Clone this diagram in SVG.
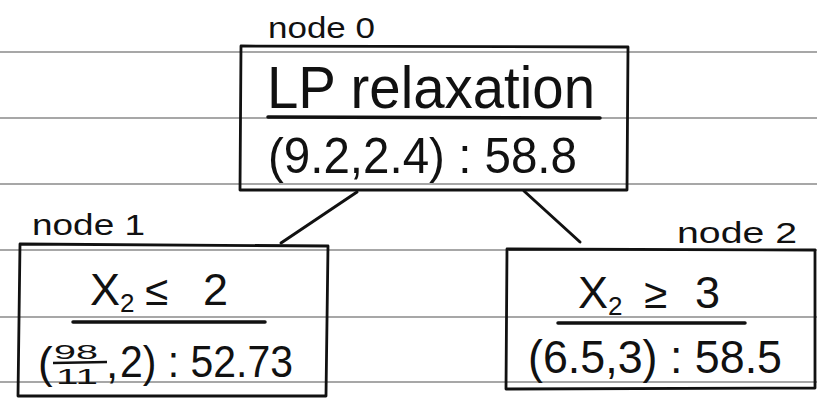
<svg xmlns="http://www.w3.org/2000/svg" width="817" height="398" viewBox="0 0 817 398">
<style>
.rule{stroke:#8a8a8a;stroke-width:1.5;fill:none}
.box{stroke:#111;stroke-width:2.8;fill:none;stroke-linejoin:round}
.ul{stroke:#111;stroke-width:3.5;fill:none;stroke-linecap:round}
.edge{stroke:#111;stroke-width:3;fill:none;stroke-linecap:round}
text{font-family:"Liberation Sans","Noto Sans",sans-serif;fill:#111}
.lbl{font-size:30px}
.sub{font-size:26px}
</style>
<rect width="817" height="398" fill="#fff"/>
<g id="ruled-lines">
<line class="rule" x1="0" y1="52" x2="817" y2="52"/>
<line class="rule" x1="0" y1="118" x2="817" y2="118"/>
<line class="rule" x1="0" y1="184" x2="817" y2="184"/>
<line class="rule" x1="0" y1="250" x2="817" y2="250"/>
<line class="rule" x1="0" y1="317" x2="817" y2="317"/>
<line class="rule" x1="0" y1="382" x2="817" y2="382"/>
</g>
<g id="connectors">
<line class="edge" x1="357" y1="192" x2="281" y2="243"/>
<line class="edge" x1="524" y1="191" x2="580" y2="242"/>
</g>
<g id="node0">
<text class="lbl" x="268" y="38" textLength="107" lengthAdjust="spacingAndGlyphs">node 0</text>
<path class="box" d="M241 46 L628 47 L627 190 L240 190 Z"/>
<text x="267" y="108" font-size="60" textLength="328" lengthAdjust="spacingAndGlyphs">LP relaxation</text>
<line class="ul" x1="268" y1="117" x2="600" y2="118"/>
<text x="268" y="173" font-size="50" textLength="309" lengthAdjust="spacingAndGlyphs">(9.2,2.4) : 58.8</text>
</g>
<g id="node1">
<text class="lbl" x="32" y="235" textLength="113" lengthAdjust="spacingAndGlyphs">node 1</text>
<path class="box" d="M20 244 L328 246 L326 396 L18 396 Z"/>
<text y="305" font-size="45"><tspan x="90">X</tspan><tspan class="sub" dy="7">2</tspan><tspan x="145" dy="-7" font-size="42">≤</tspan><tspan x="203">2</tspan></text>
<line class="ul" x1="73" y1="322" x2="265" y2="322"/>
<text x="38" y="378" font-size="44">(</text>
<text x="54" y="359" font-size="21" textLength="44" lengthAdjust="spacingAndGlyphs">98</text>
<line x1="53" y1="363" x2="107" y2="362" stroke="#111" stroke-width="2.5"/>
<text x="56" y="384" font-size="22" textLength="42" lengthAdjust="spacingAndGlyphs">11</text>
<text x="106" y="378" font-size="44">,</text>
<text x="120" y="377" font-size="44" textLength="173" lengthAdjust="spacingAndGlyphs">2) : 52.73</text>
</g>
<g id="node2">
<text class="lbl" x="677" y="243" textLength="120" lengthAdjust="spacingAndGlyphs">node 2</text>
<path class="box" d="M507 249 L815 250 L815 388 L506 389 Z"/>
<text y="308" font-size="45"><tspan x="578">X</tspan><tspan class="sub" dy="7">2</tspan><tspan x="644" dy="-7" font-size="42">≥</tspan><tspan x="695">3</tspan></text>
<line class="ul" x1="558" y1="323" x2="745" y2="323"/>
<text x="528" y="373" font-size="46" textLength="254" lengthAdjust="spacingAndGlyphs">(6.5,3) : 58.5</text>
</g>
</svg>
